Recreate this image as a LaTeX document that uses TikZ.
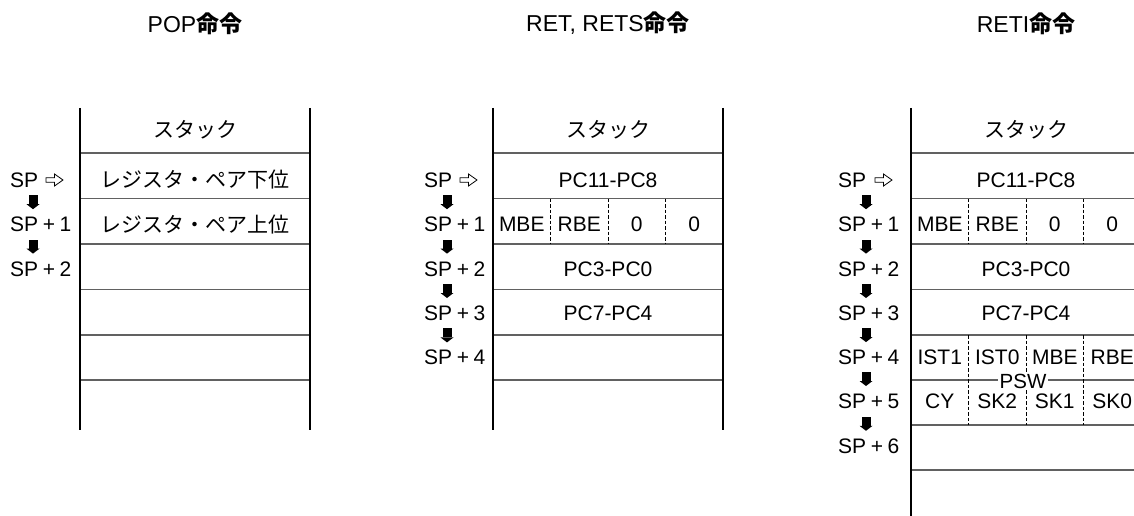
\documentclass[tikz,border=0pt]{standalone}
\usepackage{fontspec}
\setmainfont{Liberation Sans}
\newfontfamily\jp{Noto Sans CJK JP}
\newcommand{\gp}{\hspace{4.6pt}}
\begin{document}
\begin{tikzpicture}[x=1pt,y=-1pt,
  vline/.style={line width=2.4pt},
  hline/.style={line width=1.2pt, draw=black!62},
  dline/.style={line width=0.8pt, dash pattern=on 3.5pt off 2pt},
  txt/.style={inner sep=0pt, font=\fontsize{21}{25}\selectfont},
  ttl/.style={inner sep=0pt, font=\fontsize{23}{27}\selectfont},
  lbl/.style={txt, anchor=west},
  pswlbl/.style={inner sep=1.2pt, fill=white, font=\fontsize{20.5}{23}\selectfont},
  darrow/.pic={\fill (-4.5,-7) rectangle (4.5,2); \fill (-6.5,2) -- (6.5,2) -- (0,7) -- cycle;},
  warrow/.pic={\draw[line width=0.8pt, line join=miter] (0,-2.2) -- (8.5,-2.2) -- (8.5,-6) -- (17,0) -- (8.5,6) -- (8.5,2.2) -- (0,2.2) -- cycle;}
]
\useasboundingbox (0,0) rectangle (1134,516);

% ---------- titles ----------
\node[ttl] (t1) at (195,23.5) {POP{\jp\bfseries 命令}};
\node[ttl] (t2) at (608,23.5) {RET, RETS{\jp\bfseries 命令}};
\node[ttl] (t3) at (1026,23.5) {RETI{\jp\bfseries 命令}};

% ---------- stack 1 ----------
\foreach \y in {153,198.5,244,289.5,335,380}
  \draw[hline] (80,\y) -- (310,\y);
\draw[vline] (80,108) -- (80,430);
\draw[vline] (310,108) -- (310,430);
\node[txt] (s1h) at (195,130) {\jp スタック};
\node[txt] (s1r0) at (195,180) {\jp レジスタ・ペア下位};
\node[txt] (s1r1) at (195,224.4) {\jp レジスタ・ペア上位};
\node[lbl] (s1l0) at (10,180) {SP};
\node[lbl] (s1l1) at (10,224.4) {SP\gp+\gp1};
\node[lbl] (s1l2) at (10,268.8) {SP\gp+\gp2};
\pic at (46,180) {warrow};
\pic at (33,202.2) {darrow};
\pic at (33,246.6) {darrow};

% ---------- stack 2 ----------
\foreach \y in {153,198.5,244,289.5,335,380}
  \draw[hline] (493,\y) -- (723,\y);
\foreach \x in {550.5,608,665.5}
  \draw[dline] (\x,198.5) -- (\x,244);
\draw[vline] (493,108) -- (493,430);
\draw[vline] (723,108) -- (723,430);
\node[txt] (s2h) at (608,130) {\jp スタック};
\node[txt] (s2r0) at (608,180) {PC11-PC8};
\node[txt] (s2a) at (521.75,224.4) {MBE};
\node[txt] (s2b) at (579.25,224.4) {RBE};
\node[txt] (s2c) at (636.75,224.4) {0};
\node[txt] (s2d) at (694.25,224.4) {0};
\node[txt] (s2r2) at (608,268.8) {PC3-PC0};
\node[txt] (s2r3) at (608,313.2) {PC7-PC4};
\node[lbl] (s2l0) at (424,180) {SP};
\node[lbl] (s2l1) at (424,224.4) {SP\gp+\gp1};
\node[lbl] (s2l2) at (424,268.8) {SP\gp+\gp2};
\node[lbl] (s2l3) at (424,313.2) {SP\gp+\gp3};
\node[lbl] (s2l4) at (424,357.6) {SP\gp+\gp4};
\pic at (460,180) {warrow};
\foreach \y in {202.2,246.6,291,335.4}
  \pic at (447,\y) {darrow};

% ---------- stack 3 ----------
\foreach \y in {153,198.5,244,289.5,335,380,425,470}
  \draw[hline] (911,\y) -- (1134,\y);
\foreach \x in {968.5,1026,1083.5} {
  \draw[dline] (\x,198.5) -- (\x,244);
  \draw[dline] (\x,335) -- (\x,425);
}
\draw[vline] (911,108) -- (911,516);
\node[pswlbl] (psw) at (1023,381) {PSW};
\node[txt] (s3h) at (1026,130) {\jp スタック};
\node[txt] (s3r0) at (1026,180) {PC11-PC8};
\node[txt] (s3a) at (939.75,224.4) {MBE};
\node[txt] (s3b) at (997.25,224.4) {RBE};
\node[txt] (s3c) at (1054.75,224.4) {0};
\node[txt] (s3d) at (1112.25,224.4) {0};
\node[txt] (s3r2) at (1026,268.8) {PC3-PC0};
\node[txt] (s3r3) at (1026,313.2) {PC7-PC4};
\node[txt] (s3e) at (939.75,357) {IST1};
\node[txt] (s3f) at (997.25,357) {IST0};
\node[txt] (s3g) at (1054.75,357) {MBE};
\node[txt] (s3k) at (1112.25,357) {RBE};
\node[txt] (s3m) at (939.75,401) {CY};
\node[txt] (s3n) at (997.25,401) {SK2};
\node[txt] (s3o) at (1054.75,401) {SK1};
\node[txt] (s3p) at (1112.25,401) {SK0};
\node[lbl] (s3l0) at (838,180) {SP};
\node[lbl] (s3l1) at (838,224.4) {SP\gp+\gp1};
\node[lbl] (s3l2) at (838,268.8) {SP\gp+\gp2};
\node[lbl] (s3l3) at (838,313.2) {SP\gp+\gp3};
\node[lbl] (s3l4) at (838,357) {SP\gp+\gp4};
\node[lbl] (s3l5) at (838,401) {SP\gp+\gp5};
\node[lbl] (s3l6) at (838,446.7) {SP\gp+\gp6};
\pic at (875,180) {warrow};
\foreach \y in {202.2,246.6,291,335.1,379,423.8}
  \pic at (866,\y) {darrow};
\end{tikzpicture}
\end{document}
